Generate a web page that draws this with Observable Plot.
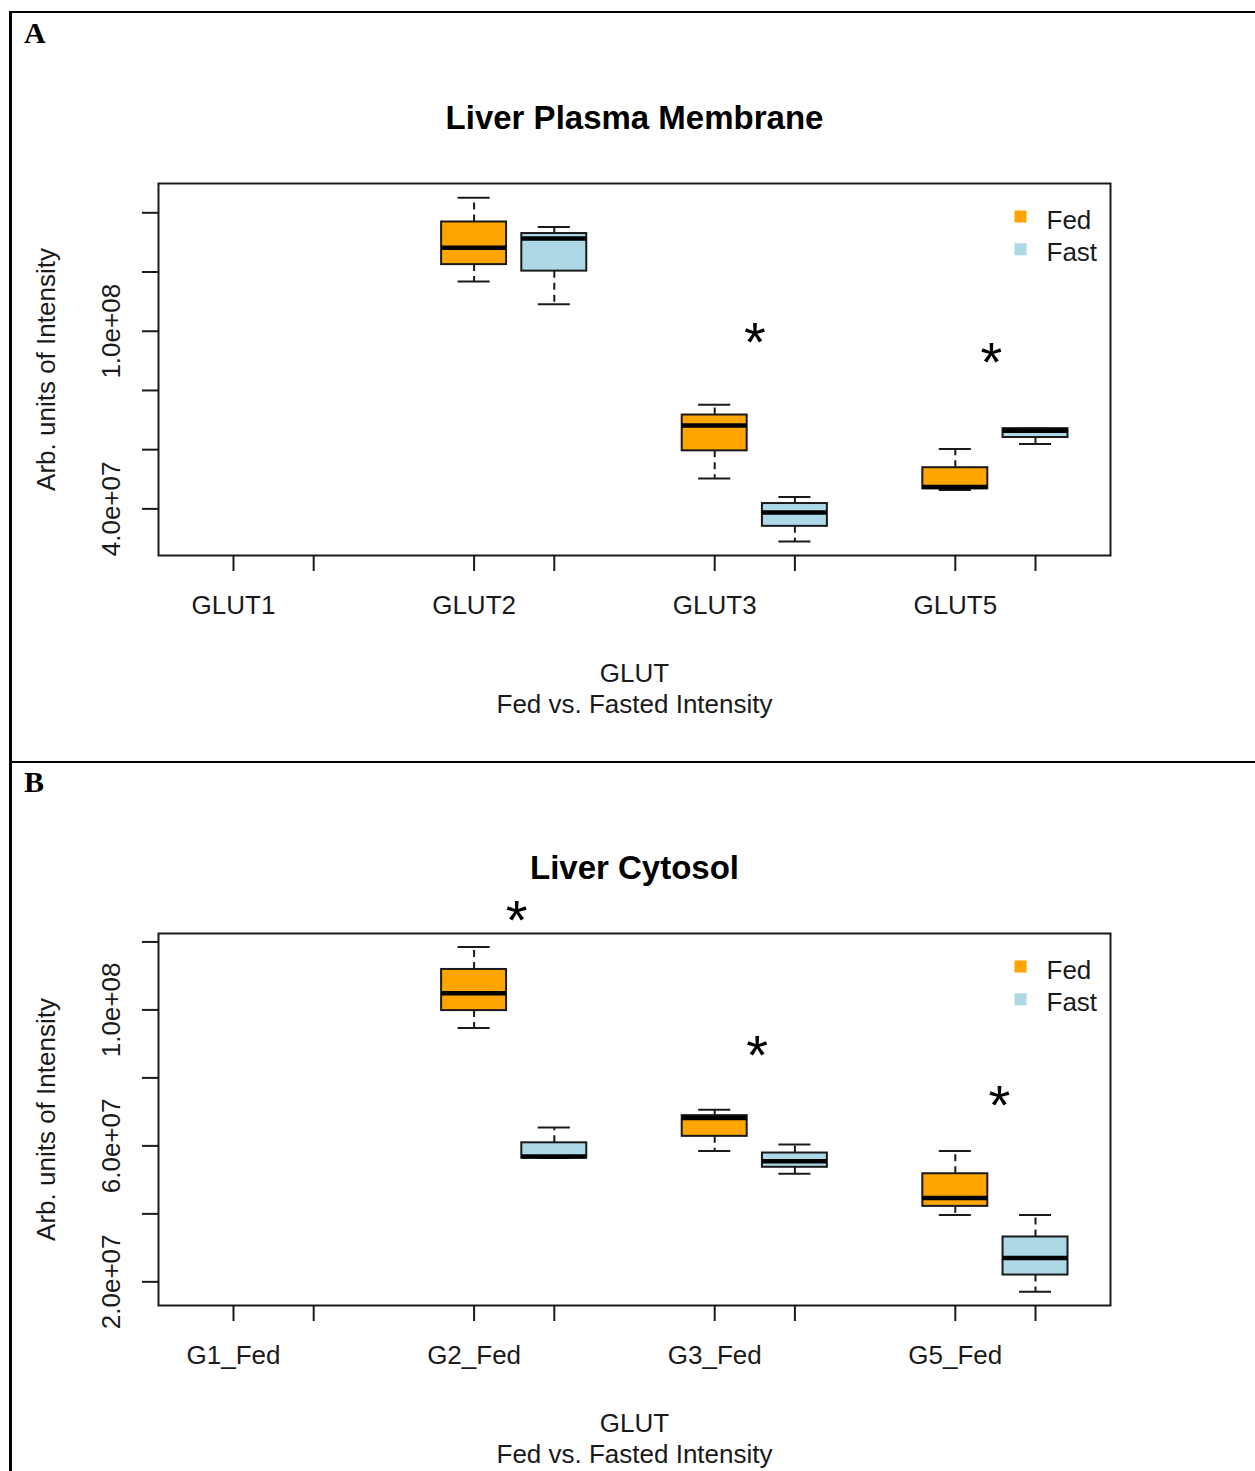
<!DOCTYPE html>
<html>
<head>
<meta charset="utf-8">
<script src="https://cdn.jsdelivr.net/npm/d3@7"></script>
<script src="https://cdn.jsdelivr.net/npm/@observablehq/plot@0.6"></script>
<style>
  html, body { margin: 0; padding: 0; background: #fff; }
  #page { position: relative; width: 1255px; height: 1471px; overflow: hidden; background: #fff; }
  .panel { position: absolute; left: 0; }
  #overlay { position: absolute; left: 0; top: 0; pointer-events: none; }
</style>
</head>
<body>
<div id="page">
  <div id="panelA" class="panel" style="top:80px"></div>
  <div id="panelB" class="panel" style="top:830px"></div>
  <svg id="overlay" width="1255" height="1471">
    <rect x="9" y="11" width="3" height="1460" fill="#000"></rect>
    <rect x="9" y="11" width="1246" height="2" fill="#000"></rect>
    <rect x="9" y="761" width="1246" height="2" fill="#000"></rect>
    <text x="24" y="43" font-family="Liberation Serif, Times New Roman, serif" font-weight="bold" font-size="30" fill="#000">A</text>
    <text x="24" y="792" font-family="Liberation Serif, Times New Roman, serif" font-weight="bold" font-size="30" fill="#000">B</text>
  </svg>
</div>
<script>
// ---------- data ----------
const conditions = ["Fed", "Fast"];
const conditionColors = ["#FFA500", "#ADD8E6"];

// Panel A: Liver Plasma Membrane
const titleA = "Liver Plasma Membrane";
const groupsA = ["GLUT1", "GLUT2", "GLUT3", "GLUT5"];
const fedLowA  = [null, 1.168e8, 5.03e7, 4.64e7];
const fedQ1A   = [null, 1.225e8, 5.96e7, 4.68e7];
const fedMedA  = [null, 1.282e8, 6.82e7, 4.74e7];
const fedQ3A   = [null, 1.369e8, 7.17e7, 5.39e7];
const fedHighA = [null, 1.451e8, 7.52e7, 6.02e7];
const fastLowA  = [null, 1.091e8, 2.90e7, 6.19e7];
const fastQ1A   = [null, 1.203e8, 3.41e7, 6.41e7];
const fastMedA  = [null, 1.313e8, 3.88e7, 6.64e7];
const fastQ3A   = [null, 1.330e8, 4.18e7, 6.71e7];
const fastHighA = [null, 1.352e8, 4.40e7, 6.71e7];
const yDomainA = [2.425e7, 1.499e8];
const yTicksA = [4e7, 6e7, 8e7, 1e8, 1.2e8, 1.4e8];
const yTickLabelsA = ["4.0e+07", "", "", "1.0e+08", "", ""];
const starXA = [7.5, 10.45];
const starYA = [9.90e7, 9.23e7];

// Panel B: Liver Cytosol
const titleB = "Liver Cytosol";
const groupsB = ["G1_Fed", "G2_Fed", "G3_Fed", "G5_Fed"];
const fedLowB  = [null, 0.947e8, 5.85e7, 3.97e7];
const fedQ1B   = [null, 0.998e8, 6.28e7, 4.22e7];
const fedMedB  = [null, 1.049e8, 6.82e7, 4.47e7];
const fedQ3B   = [null, 1.119e8, 6.89e7, 5.18e7];
const fedHighB = [null, 1.185e8, 7.06e7, 5.85e7];
const fastLowB  = [null, 5.64e7, 5.18e7, 1.705e7];
const fastQ1B   = [null, 5.64e7, 5.37e7, 2.20e7];
const fastMedB  = [null, 5.69e7, 5.55e7, 2.70e7];
const fastQ3B   = [null, 6.09e7, 5.79e7, 3.32e7];
const fastHighB = [null, 6.54e7, 6.04e7, 3.97e7];
const yDomainB = [1.304e7, 1.2248e8];
const yTicksB = [2e7, 4e7, 6e7, 8e7, 1e8, 1.2e8];
const yTickLabelsB = ["2.0e+07", "", "6.0e+07", "", "1.0e+08", ""];
const starXB = [4.53, 7.53, 10.55];
const starYB = [1.288e8, 8.92e7, 7.45e7];

const xAxisTitle1 = "GLUT";
const xAxisTitle2 = "Fed vs. Fasted Intensity";
const yAxisTitle = "Arb. units of Intensity";

// ---------- drawing ----------
const FONT = "Liberation Sans, Arial, Helvetica, sans-serif";
const INK = "#1a1a1a";
const boxHalf = 0.405;
const capHalf = 0.2;
const xDomain = [0.065, 11.935];

function makePanel(cfg) {
  const rows = [];
  cfg.groups.forEach((g, i) => {
    conditions.forEach((c, j) => {
      const s = cfg.stats[c];
      if (s.med[i] == null) return;
      rows.push({glut: g, cond: c, pos: 3 * i + 1 + j,
        low: s.low[i], q1: s.q1[i], med: s.med[i], q3: s.q3[i], high: s.high[i]});
    });
  });
  const tickPositions = cfg.groups.flatMap((g, i) => conditions.map((c, j) => 3 * i + 1 + j));
  const labelRows = cfg.groups.map((g, i) => ({glut: g, pos: 3 * i + 1}));
  const yTickRows = cfg.yTicks.map((v, i) => ({v, label: cfg.yTickLabels[i]}));
  const stars = cfg.starX.map((x, i) => ({x, y: cfg.starY[i]}));

  const legendMarks = conditions.flatMap((c, i) => [
    Plot.dot([c], {frameAnchor: "top-right", dx: -90, dy: 33 + 32.8 * i, symbol: "square", r: 6.8,
      fill: conditionColors[i], stroke: null}),
    Plot.text([c], {frameAnchor: "top-right", dx: -64, dy: 45 + 32.8 * i, textAnchor: "start",
      lineAnchor: "bottom", fontSize: 26, fill: INK})
  ]);

  return Plot.plot({
    width: 1255,
    height: cfg.height,
    marginLeft: 158,
    marginRight: 145,
    marginTop: 103,
    marginBottom: cfg.marginBottom,
    style: {fontFamily: FONT, fontSize: "26px", background: "transparent", overflow: "visible", color: INK},
    x: {type: "linear", domain: xDomain},
    y: {type: "linear", domain: cfg.yDomain},
    color: {domain: conditions, range: conditionColors},
    marks: [
      Plot.frame({stroke: INK, strokeWidth: 2}),
      Plot.axisX({ticks: tickPositions, tickSize: 16, tickFormat: () => "", label: null, strokeWidth: 2, stroke: INK}),
      Plot.axisY({ticks: cfg.yTicks, tickSize: 16, tickFormat: () => "", label: null, strokeWidth: 2, stroke: INK}),
      // y tick labels (rotated, parallel to axis)
      Plot.text(yTickRows, {y: "v", text: "label", frameAnchor: "left", rotate: -90, dx: -39,
        lineAnchor: "bottom", textAnchor: "middle", fontSize: 26, fill: INK}),
      // x group labels
      Plot.text(labelRows, {x: "pos", text: "glut", frameAnchor: "bottom", dy: 58,
        lineAnchor: "bottom", fontSize: 26, fill: INK}),
      // titles
      Plot.text([cfg.title], {frameAnchor: "top", dy: -55, lineAnchor: "bottom",
        fontSize: 33, fontWeight: "bold", fill: "#000"}),
      Plot.text([xAxisTitle1], {frameAnchor: "bottom", dy: 126, lineAnchor: "bottom", fontSize: 26, fill: INK}),
      Plot.text([xAxisTitle2], {frameAnchor: "bottom", dy: 157, lineAnchor: "bottom", fontSize: 26, fill: INK}),
      Plot.text([yAxisTitle], {frameAnchor: "left", rotate: -90, dx: -104, lineAnchor: "bottom",
        textAnchor: "middle", fontSize: 26, fill: INK}),
      // whiskers
      Plot.ruleX(rows, {x: "pos", y1: "q3", y2: "high", stroke: INK, strokeWidth: 2, strokeDasharray: "7,5"}),
      Plot.ruleX(rows, {x: "pos", y1: "q1", y2: "low", stroke: INK, strokeWidth: 2, strokeDasharray: "7,5"}),
      Plot.ruleY(rows, {y: "high", x1: d => d.pos - capHalf, x2: d => d.pos + capHalf, stroke: INK, strokeWidth: 2}),
      Plot.ruleY(rows, {y: "low", x1: d => d.pos - capHalf, x2: d => d.pos + capHalf, stroke: INK, strokeWidth: 2}),
      // boxes
      Plot.rect(rows, {x1: d => d.pos - boxHalf, x2: d => d.pos + boxHalf, y1: "q1", y2: "q3",
        fill: "cond", stroke: INK, strokeWidth: 2, inset: 0}),
      // medians
      Plot.ruleY(rows, {y: "med", x1: d => d.pos - boxHalf, x2: d => d.pos + boxHalf, stroke: "#000", strokeWidth: 4.5}),
      // significance stars
      Plot.text(stars, {x: "x", y: "y", text: () => "*", fontSize: 56, dy: 9, lineAnchor: "middle", fill: "#000"}),
      ...legendMarks
    ]
  });
}

document.getElementById("panelA").append(makePanel({
  title: titleA, groups: groupsA, height: 650, marginBottom: 175,
  stats: {
    Fed: {low: fedLowA, q1: fedQ1A, med: fedMedA, q3: fedQ3A, high: fedHighA},
    Fast: {low: fastLowA, q1: fastQ1A, med: fastMedA, q3: fastQ3A, high: fastHighA}
  },
  yDomain: yDomainA, yTicks: yTicksA, yTickLabels: yTickLabelsA, starX: starXA, starY: starYA
}));

document.getElementById("panelB").append(makePanel({
  title: titleB, groups: groupsB, height: 641, marginBottom: 166,
  stats: {
    Fed: {low: fedLowB, q1: fedQ1B, med: fedMedB, q3: fedQ3B, high: fedHighB},
    Fast: {low: fastLowB, q1: fastQ1B, med: fastMedB, q3: fastQ3B, high: fastHighB}
  },
  yDomain: yDomainB, yTicks: yTicksB, yTickLabels: yTickLabelsB, starX: starXB, starY: starYB
}));
</script>
</body>
</html>
